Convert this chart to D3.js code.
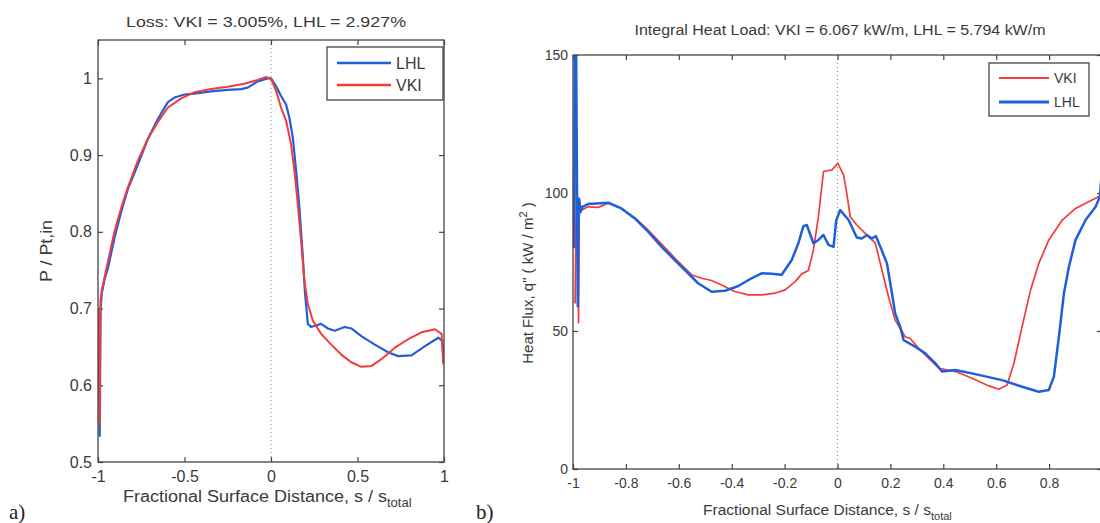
<!DOCTYPE html>
<html>
<head>
<meta charset="utf-8">
<script src="https://cdn.jsdelivr.net/npm/d3@7"></script>
<style>
  body { margin: 0; background: #fff; }
  svg { display: block; }
</style>
</head>
<body>
<script>
//////// data ////////

// a) pressure ratio P / Pt,in vs fractional surface distance
var lhlPressure = [
  [-0.995, 0.66], [-0.990, 0.534], [-0.985, 0.70], [-0.978, 0.72], [-0.960, 0.74],
  [-0.942, 0.753], [-0.904, 0.793], [-0.865, 0.827], [-0.827, 0.856], [-0.769, 0.888],
  [-0.712, 0.921], [-0.654, 0.947], [-0.596, 0.969], [-0.558, 0.975], [-0.500, 0.979],
  [-0.442, 0.980], [-0.346, 0.983], [-0.250, 0.985], [-0.173, 0.986], [-0.135, 0.988],
  [-0.077, 0.996], [-0.019, 1.000], [0.000, 1.000], [0.029, 0.990], [0.058, 0.977],
  [0.087, 0.966], [0.106, 0.949], [0.126, 0.923], [0.145, 0.880], [0.164, 0.832],
  [0.184, 0.767], [0.197, 0.719], [0.213, 0.680], [0.232, 0.676], [0.290, 0.680],
  [0.329, 0.674], [0.368, 0.671], [0.426, 0.676], [0.464, 0.674], [0.522, 0.664],
  [0.600, 0.653], [0.677, 0.643], [0.735, 0.638], [0.812, 0.639], [0.890, 0.651],
  [0.967, 0.662], [0.990, 0.658], [0.998, 0.632]
];
var vkiPressure = [
  [-0.995, 0.70], [-0.990, 0.549], [-0.986, 0.71], [-0.975, 0.727], [-0.942, 0.762],
  [-0.904, 0.801], [-0.865, 0.832], [-0.827, 0.858], [-0.769, 0.893], [-0.712, 0.921],
  [-0.654, 0.943], [-0.596, 0.962], [-0.519, 0.974], [-0.442, 0.982], [-0.346, 0.986],
  [-0.250, 0.989], [-0.154, 0.993], [-0.077, 0.998], [-0.029, 1.002], [0.000, 0.999],
  [0.029, 0.984], [0.058, 0.962], [0.087, 0.945], [0.116, 0.914], [0.135, 0.880],
  [0.155, 0.836], [0.174, 0.788], [0.193, 0.736], [0.213, 0.706], [0.242, 0.684],
  [0.290, 0.667], [0.348, 0.653], [0.406, 0.640], [0.464, 0.630], [0.522, 0.624],
  [0.580, 0.625], [0.638, 0.634], [0.716, 0.649], [0.793, 0.660], [0.870, 0.669],
  [0.948, 0.673], [0.986, 0.667], [0.996, 0.627]
];

// b) heat flux q" (kW/m2) vs fractional surface distance
var vkiHeat = [
  [-0.992, 60], [-0.986, 115], [-0.982, 78], [-0.979, 53], [-0.976, 98],
  [-0.969, 93.8], [-0.943, 95], [-0.905, 94.8], [-0.867, 96.3], [-0.817, 94.4],
  [-0.766, 91], [-0.716, 86.6], [-0.665, 81.5], [-0.602, 75.1], [-0.552, 70.4],
  [-0.514, 69.1], [-0.476, 68.3], [-0.438, 66.7], [-0.388, 64.3], [-0.337, 63.1],
  [-0.287, 63.1], [-0.236, 63.7], [-0.198, 64.9], [-0.160, 67.9], [-0.135, 70.7],
  [-0.110, 71.9], [-0.091, 79.4], [-0.072, 91.5], [-0.053, 107.8], [-0.021, 108.4],
  [0.001, 110.8], [0.023, 106.5], [0.035, 99.9], [0.048, 91.4], [0.073, 88.4],
  [0.117, 84.2], [0.143, 81.8], [0.168, 72.1], [0.193, 62.4], [0.218, 54.0],
  [0.256, 47.9], [0.275, 47.3], [0.307, 43.7], [0.345, 40.1], [0.383, 36.5],
  [0.446, 35.3], [0.509, 32.9], [0.572, 30.1], [0.610, 28.9], [0.641, 30.4],
  [0.667, 38.3], [0.698, 51.6], [0.730, 64.9], [0.761, 74.5], [0.799, 83.0],
  [0.850, 90.2], [0.900, 94.4], [0.951, 96.9], [0.989, 98.7]
];
var lhlHeat = [
  [-0.996, 80], [-0.993, 150], [-0.988, 150], [-0.982, 59], [-0.978, 98],
  [-0.972, 93], [-0.965, 95], [-0.943, 96], [-0.867, 96.5], [-0.817, 94.4],
  [-0.766, 90.8], [-0.716, 86.0], [-0.665, 80.5], [-0.615, 75.7], [-0.577, 72.1],
  [-0.527, 67.3], [-0.476, 64.2], [-0.425, 64.6], [-0.375, 66.3], [-0.325, 69.1],
  [-0.287, 70.9], [-0.249, 70.7], [-0.211, 70.4], [-0.173, 75.7], [-0.148, 81.8],
  [-0.129, 88.0], [-0.116, 88.4], [-0.091, 81.8], [-0.072, 83.0], [-0.053, 84.8],
  [-0.034, 81.2], [-0.015, 80.5], [-0.005, 90], [0.010, 93.8], [0.042, 90.2],
  [0.073, 83.9], [0.092, 83.5], [0.111, 84.8], [0.130, 83.5], [0.145, 84.4],
  [0.162, 80.5], [0.187, 74.5], [0.206, 63.6], [0.218, 56.4], [0.237, 51.6],
  [0.250, 46.7], [0.294, 44.3], [0.332, 41.9], [0.370, 38.3], [0.395, 35.3],
  [0.446, 35.9], [0.534, 34.1], [0.622, 32.2], [0.698, 29.8], [0.761, 28.0],
  [0.799, 28.6], [0.818, 33.4], [0.837, 47.9], [0.856, 63.6], [0.875, 73.3],
  [0.900, 83.0], [0.938, 90.2], [0.976, 95.0], [0.992, 98.7], [0.998, 106], [0.999, 80]
];

// tick values / labels (the "1" of panel b is cut off in the scan)
var aXTicks = [-1, -0.5, 0, 0.5, 1];
var aXLabels = ['-1', '-0.5', '0', '0.5', '1'];
var aYTicks = [0.5, 0.6, 0.7, 0.8, 0.9, 1];
var aYLabels = ['0.5', '0.6', '0.7', '0.8', '0.9', '1'];
var bXTicks = [-1, -0.8, -0.6, -0.4, -0.2, 0, 0.2, 0.4, 0.6, 0.8, 1];
var bXLabels = ['-1', '-0.8', '-0.6', '-0.4', '-0.2', '0', '0.2', '0.4', '0.6', '0.8', ''];
var bYTicks = [0, 50, 100, 150];
var bYLabels = ['0', '50', '100', '150'];

var blue = '#1f5fdc';
var red = '#f23c3c';
var ink = '#3a3a3a';
var sans = '"Liberation Sans", Arial, sans-serif';

var svg = d3.select('body').append('svg')
  .attr('width', 1100)
  .attr('height', 523);

//MarK: panel drawing
function drawPanel(p) {
  var x = p.x, y = p.y;
  var x0 = x.range()[0], x1 = x.range()[1];
  var y0 = y.range()[0], y1 = y.range()[1];
  var g = svg.append('g');

  g.append('clipPath').attr('id', p.id + '_clip')
    .append('rect')
    .attr('x', x0).attr('y', y1)
    .attr('width', x1 - x0).attr('height', y0 - y1);

  // dotted line at s = 0
  g.append('line')
    .attr('x1', x(0)).attr('x2', x(0))
    .attr('y1', y1).attr('y2', y0)
    .attr('stroke', '#888')
    .attr('stroke-width', 1)
    .attr('stroke-dasharray', '1,3');

  var fmt = function(labels, ticks) {
    return function(d) { return labels[ticks.indexOf(d)]; };
  };

  // bottom + left axes with labels, top + right mirrored ticks
  var bottom = g.append('g')
    .attr('transform', 'translate(0,' + y0 + ')')
    .call(d3.axisBottom(x).tickValues(p.xTicks).tickFormat(fmt(p.xLabels, p.xTicks))
      .tickSize(-5).tickPadding(p.xPad));
  var left = g.append('g')
    .attr('transform', 'translate(' + x0 + ',0)')
    .call(d3.axisLeft(y).tickValues(p.yTicks).tickFormat(fmt(p.yLabels, p.yTicks))
      .tickSize(-5).tickPadding(p.yPad));
  var top = g.append('g')
    .attr('transform', 'translate(0,' + y1 + ')')
    .call(d3.axisTop(x).tickValues(p.xTicks).tickFormat('').tickSize(-5));
  var right = g.append('g')
    .attr('transform', 'translate(' + x1 + ',0)')
    .call(d3.axisRight(y).tickValues(p.yTicks).tickFormat('').tickSize(-5));

  [bottom, left, top, right].forEach(function(a) {
    a.select('.domain').remove();
    a.selectAll('line').attr('stroke', '#444').attr('stroke-width', 1.2);
    a.selectAll('text')
      .attr('fill', ink)
      .style('font-family', sans)
      .style('font-size', p.tickFont + 'px');
  });

  // the curves
  var line = d3.line()
    .x(function(d) { return x(d[0]); })
    .y(function(d) { return y(d[1]); });

  g.append('g').attr('clip-path', 'url(#' + p.id + '_clip)')
    .selectAll('path')
    .data(p.series)
    .enter().append('path')
    .attr('d', function(d) { return line(d.values); })
    .attr('fill', 'none')
    .attr('stroke', function(d) { return d.color; })
    .attr('stroke-width', function(d) { return d.width; })
    .attr('stroke-linejoin', 'round');

  // frame
  g.append('rect')
    .attr('x', x0).attr('y', y1)
    .attr('width', x1 - x0).attr('height', y0 - y1)
    .attr('fill', 'none')
    .attr('stroke', '#444')
    .attr('stroke-width', 1.3);

  // title (stretched like the scan)
  g.append('text')
    .attr('x', p.titleX).attr('y', p.titleY)
    .attr('text-anchor', 'middle')
    .attr('fill', ink)
    .attr('textLength', p.titleLen)
    .attr('lengthAdjust', 'spacingAndGlyphs')
    .style('font-family', sans)
    .style('font-size', p.titleFont + 'px')
    .text(p.title);

  // x label with subscript
  var xl = g.append('text')
    .attr('x', p.xLabelX).attr('y', p.xLabelY)
    .attr('fill', ink)
    .style('font-family', sans)
    .style('font-size', p.labelFont + 'px');
  xl.append('tspan').attr('textLength', p.xLabelLen).attr('lengthAdjust', 'spacingAndGlyphs')
    .text('Fractional Surface Distance, s / s');
  xl.append('tspan').attr('dy', 5).style('font-size', (p.labelFont - 3) + 'px').text('total');

  // legend
  var lg = g.append('g');
  lg.append('rect')
    .attr('x', p.legend.x).attr('y', p.legend.y)
    .attr('width', p.legend.w).attr('height', p.legend.h)
    .attr('fill', '#fff')
    .attr('stroke', '#444')
    .attr('stroke-width', 1.3);
  var item = lg.selectAll('.item')
    .data(p.legendOrder)
    .enter().append('g')
    .attr('class', 'item')
    .attr('transform', function(d, i) {
      return 'translate(' + p.legend.x + ',' + (p.legend.y + p.legend.first + i * p.legend.step) + ')';
    });
  item.append('line')
    .attr('x1', p.legend.l0).attr('x2', p.legend.l1)
    .attr('stroke', function(d) { return d.color; })
    .attr('stroke-width', function(d) { return d.width + 0.3; });
  item.append('text')
    .attr('x', p.legend.l1 + 5)
    .attr('dy', '0.35em')
    .attr('fill', ink)
    .style('font-family', sans)
    .style('font-size', p.legend.font + 'px')
    .text(function(d) { return d.name; });

  return g;
}

//MarK: a) pressure
var lhlA = { name: 'LHL', values: lhlPressure, color: blue, width: 2.2 };
var vkiA = { name: 'VKI', values: vkiPressure, color: red, width: 2 };
var panelA = drawPanel({
  id: 'a',
  x: d3.scaleLinear().domain([-1, 1]).range([98, 444]),
  y: d3.scaleLinear().domain([0.5, 1.05]).range([462, 40]),
  xTicks: aXTicks, xLabels: aXLabels, yTicks: aYTicks, yLabels: aYLabels,
  xPad: 9, yPad: 6, tickFont: 16, titleFont: 15, labelFont: 16,
  series: [lhlA, vkiA],
  legendOrder: [lhlA, vkiA],
  legend: { x: 327, y: 47, w: 116, h: 53, first: 16, step: 22, l0: 10, l1: 64, font: 16 },
  title: 'Loss: VKI = 3.005%, LHL = 2.927%',
  titleX: 266, titleY: 27, titleLen: 280,
  xLabelX: 123, xLabelY: 502, xLabelLen: 264
});
panelA.append('text')
  .attr('transform', 'translate(52,251) rotate(-90)')
  .attr('text-anchor', 'middle')
  .attr('fill', ink)
  .attr('textLength', 62)
  .attr('lengthAdjust', 'spacingAndGlyphs')
  .style('font-family', sans)
  .style('font-size', '16px')
  .text('P / Pt,in');

//MarK: b) heat flux
var vkiB = { name: 'VKI', values: vkiHeat, color: red, width: 1.7 };
var lhlB = { name: 'LHL', values: lhlHeat, color: blue, width: 2.5 };
var panelB = drawPanel({
  id: 'b',
  x: d3.scaleLinear().domain([-1, 1]).range([573, 1102]),
  y: d3.scaleLinear().domain([0, 150]).range([469, 55]),
  xTicks: bXTicks, xLabels: bXLabels, yTicks: bYTicks, yLabels: bYLabels,
  xPad: 9, yPad: 5, tickFont: 14, titleFont: 14, labelFont: 14,
  series: [vkiB, lhlB],
  legendOrder: [vkiB, lhlB],
  legend: { x: 989, y: 63, w: 100, h: 53, first: 15, step: 24, l0: 10, l1: 60, font: 14 },
  title: 'Integral Heat Load: VKI = 6.067 kW/m, LHL = 5.794 kW/m',
  titleX: 840, titleY: 35, titleLen: 411,
  xLabelX: 703, xLabelY: 515, xLabelLen: 228
});
var yl = panelB.append('text')
  .attr('transform', 'translate(533,283) rotate(-90)')
  .attr('text-anchor', 'middle')
  .attr('fill', ink)
  .style('font-family', sans)
  .style('font-size', '15px');
yl.append('tspan').text('Heat Flux, q" ( kW / m');
yl.append('tspan').attr('dy', -6).style('font-size', '11px').text('2');
yl.append('tspan').attr('dy', 6).text(' )');

// panel letters
svg.append('text').attr('x', 9).attr('y', 519)
  .attr('fill', '#222')
  .style('font-family', '"Liberation Serif", "Times New Roman", serif')
  .style('font-size', '21px')
  .text('a)');
svg.append('text').attr('x', 476).attr('y', 519)
  .attr('fill', '#222')
  .style('font-family', '"Liberation Serif", "Times New Roman", serif')
  .style('font-size', '21px')
  .text('b)');
</script>
</body>
</html>
